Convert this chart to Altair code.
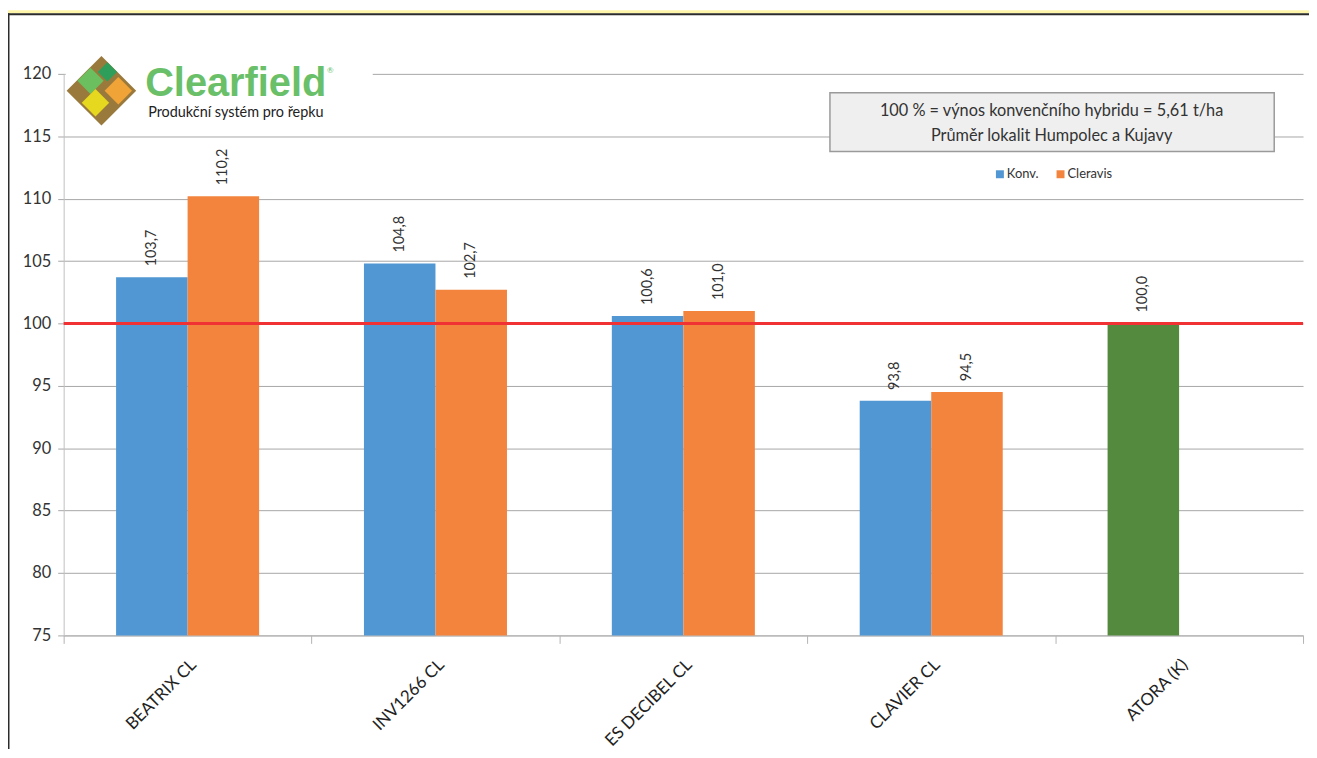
import altair as alt
import pandas as pd

categories = ["BEATRIX CL", "INV1266 CL", "ES DECIBEL CL", "CLAVIER CL", "ATORA (K)"]
konv = [103.7, 104.8, 100.6, 93.8, 100.0]
cleravis = [110.2, 102.7, 101.0, 94.5, None]
series_names = ["Konv.", "Cleravis"]
control_category = "ATORA (K)"
y_ticks = [75, 80, 85, 90, 95, 100, 105, 110, 115, 120]
reference_value = 100
box_lines = ["100 % = výnos konvenčního hybridu = 5,61 t/ha", "Průměr lokalit Humpolec a Kujavy"]
logo_name = "Clearfield"
logo_sub = "Produkční systém pro řepku"

FONT = "Lato"
W, H = 1247, 565

rows = []
for c, k, cl in zip(categories, konv, cleravis):
    rows.append({"cat": c, "series": "Konv.", "value": k,
                 "ckey": "Kontrola" if c == control_category else "Konv."})
    if cl is not None:
        rows.append({"cat": c, "series": "Cleravis", "value": cl, "ckey": "Cleravis"})
df = pd.DataFrame(rows)

xscale = alt.Scale(domain=categories, paddingInner=0, paddingOuter=0)
yscale = alt.Scale(domain=[75, 120], nice=False, zero=False)
xoff = alt.XOffset("series:N", scale=alt.Scale(domain=series_names, paddingInner=0, paddingOuter=0.733))

base = alt.Chart(df)

bars = base.mark_bar(strokeWidth=0).encode(
    x=alt.X("cat:N", scale=xscale, sort=categories,
            axis=alt.Axis(title=None, labelAngle=-45, labelAlign="right", labelBaseline="top",
                          labelFontSize=17, labelColor="#222222", labelFont=FONT,
                          labelPadding=13, labelLimit=300, tickBand="extent", tickSize=8,
                          tickColor="#b3b3b3", domainColor="#b3b3b3", grid=False)),
    xOffset=xoff,
    y=alt.Y("value:Q", scale=yscale,
            axis=alt.Axis(title=None, values=y_ticks, labelFontSize=16.5, labelColor="#333333",
                          labelFont=FONT, labelPadding=7, tickSize=6, tickColor="#a6a6a6",
                          domainColor="#bfbfbf", gridColor="#a6a6a6", gridWidth=1)),
    y2=alt.datum(75),
    color=alt.Color("ckey:N", legend=None,
                    scale=alt.Scale(domain=["Konv.", "Cleravis", "Kontrola"],
                                    range=["#5097d3", "#f3843e", "#538a3e"])),
)

labels = base.transform_calculate(
    lab="replace(format(datum.value, '.1f'), '.', ',')"
).mark_text(angle=270, align="left", baseline="middle", dx=11, fontSize=14.5,
            color="#333333", font=FONT).encode(
    x=alt.X("cat:N", scale=xscale, sort=categories),
    xOffset=xoff,
    y=alt.Y("value:Q", scale=yscale),
    text="lab:N",
)

red = alt.Chart(pd.DataFrame({"v": [reference_value]})).mark_rule(
    color="#f03234", strokeWidth=3).encode(
    y=alt.Y("v:Q", scale=yscale), x=alt.value(0), x2=alt.value(W))

# frame (top strip + left border)
frame_top = alt.Chart(pd.DataFrame({"a": [0]})).mark_rect(color="#fff5a8").encode(
    x=alt.value(-56), x2=alt.value(W + 6), y=alt.value(-64), y2=alt.value(-61))
frame_line = alt.Chart(pd.DataFrame({"a": [0]})).mark_rect(color="#2b2b2b").encode(
    x=alt.value(-56), x2=alt.value(W + 6), y=alt.value(-61), y2=alt.value(-59))
frame_left = alt.Chart(pd.DataFrame({"a": [0]})).mark_rect(color="#2b2b2b").encode(
    x=alt.value(-56), x2=alt.value(-54.5), y=alt.value(-61), y2=alt.value(H + 130))

# logo area
logo_bg = alt.Chart(pd.DataFrame({"a": [0]})).mark_rect(color="white").encode(
    x=alt.value(2), x2=alt.value(311), y=alt.value(-14), y2=alt.value(48))
diamond = "M0,-1 L1,0 L0,1 L-1,0 Z"
icon_df = pd.DataFrame({
    "px": [38, 27, 44, 55, 32],
    "py": [17, 7, -2, 17, 29],
    "sz": [4900, 700, 380, 760, 760],
    "col": ["#9a7a3c", "#6cbf5e", "#2e9e5a", "#f0a336", "#e6d81e"],
})
icon = alt.Chart(icon_df).mark_point(shape=diamond, filled=True, opacity=1, strokeWidth=0).encode(
    x=alt.X("px:Q", scale=None), y=alt.Y("py:Q", scale=None),
    size=alt.Size("sz:Q", scale=None), color=alt.Color("col:N", scale=None))
logo_txt = alt.Chart(pd.DataFrame({"t": [logo_name]})).mark_text(
    align="left", baseline="alphabetic", fontSize=40, fontWeight="bold",
    font="Liberation Sans", color="#6abf69").encode(
    x=alt.value(82), y=alt.value(22), text="t:N")
logo_reg = alt.Chart(pd.DataFrame({"t": ["®"]})).mark_text(
    align="left", baseline="middle", fontSize=8, color="#6abf69", font=FONT).encode(
    x=alt.value(265), y=alt.value(-3), text="t:N")
logo_sub_txt = alt.Chart(pd.DataFrame({"t": [logo_sub]})).mark_text(
    align="left", baseline="alphabetic", fontSize=14.5, color="#222222", font=FONT).encode(
    x=alt.value(85), y=alt.value(43), text="t:N")

# info box
box = alt.Chart(pd.DataFrame({"a": [0]})).mark_rect(
    fill="#efefef", stroke="#9a9a9a", strokeWidth=1.5).encode(
    x=alt.value(771), x2=alt.value(1218), y=alt.value(19), y2=alt.value(78))
box_txt = alt.Chart(pd.DataFrame({"t": box_lines, "yy": [37, 63]})).mark_text(
    align="center", baseline="middle", fontSize=16.4, color="#333333", font=FONT).encode(
    x=alt.value(994), y=alt.Y("yy:Q", scale=None), text="t:N")

# manual legend
leg_df = pd.DataFrame({"name": series_names, "sx": [942, 1003], "tx": [949, 1010],
                       "col": ["#5097d3", "#f3843e"]})
leg_sq = alt.Chart(leg_df).mark_square(size=64, opacity=1).encode(
    x=alt.X("sx:Q", scale=None), y=alt.value(101), color=alt.Color("col:N", scale=None))
leg_tx = alt.Chart(leg_df).mark_text(align="left", baseline="middle", fontSize=13,
                                     color="#333333", font=FONT).encode(
    x=alt.X("tx:Q", scale=None), y=alt.value(101), text="name:N")

chart = alt.layer(
    bars, red, labels, logo_bg, icon, logo_txt, logo_reg, logo_sub_txt,
    box, box_txt, leg_sq, leg_tx, frame_top, frame_line, frame_left
).properties(
    width=W, height=H,
    padding={"left": 56, "top": 64, "right": 6, "bottom": 112},
    autosize=alt.AutoSizeParams(type="none"),
    background="white",
).configure_view(stroke=None)

chart.save("out.html", embed_options={"renderer": "svg", "actions": False})
